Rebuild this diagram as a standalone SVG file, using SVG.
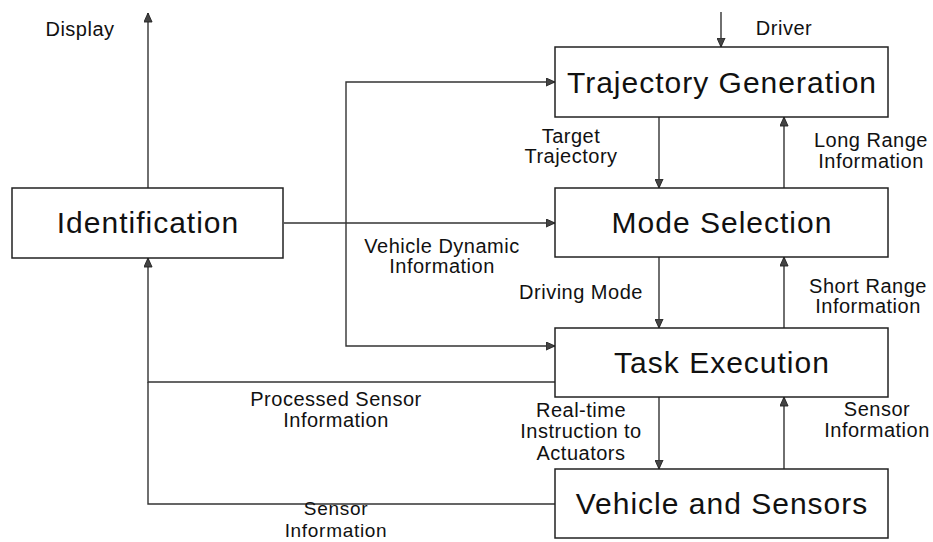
<svg xmlns="http://www.w3.org/2000/svg" width="933" height="542" viewBox="0 0 933 542">
<style>
.box{fill:#fff;stroke:#222;stroke-width:1.5}
.title{font-family:"Liberation Sans",Arial,sans-serif;font-size:30px;letter-spacing:1px;fill:#111;text-anchor:middle}
.lbl{font-family:"Liberation Sans",Arial,sans-serif;font-size:20px;letter-spacing:0.5px;fill:#111;text-anchor:middle}
.sm{font-size:19px;letter-spacing:0.7px}
.ln{fill:none;stroke:#333;stroke-width:1.4}
</style>
<defs>
<marker id="ah" viewBox="0 0 10 10" refX="10" refY="5" markerWidth="10" markerHeight="9" markerUnits="userSpaceOnUse" orient="auto">
<path d="M0,0.5 L10,5 L0,9.5 Z" fill="#444" stroke="#222" stroke-width="1"/>
</marker>
</defs>
<rect width="933" height="542" fill="#fff"/>
<g id="connectors">
<path class="ln" d="M148,188 V13" marker-end="url(#ah)"/>
<path class="ln" d="M721,12 V47" marker-end="url(#ah)"/>
<path class="ln" d="M284,223 H555" marker-end="url(#ah)"/>
<path class="ln" d="M346,223 V82 H555" marker-end="url(#ah)"/>
<path class="ln" d="M346,223 V346 H555" marker-end="url(#ah)"/>
<path class="ln" d="M659,117 V188" marker-end="url(#ah)"/>
<path class="ln" d="M784,188 V117" marker-end="url(#ah)"/>
<path class="ln" d="M659,257 V328" marker-end="url(#ah)"/>
<path class="ln" d="M784,328 V257" marker-end="url(#ah)"/>
<path class="ln" d="M659,397 V469" marker-end="url(#ah)"/>
<path class="ln" d="M784,469 V397" marker-end="url(#ah)"/>
<path class="ln" d="M555,382 H148 V258" marker-end="url(#ah)"/>
<path class="ln" d="M555,504 H148 V382"/>
</g>
<g id="labels">
<text class="lbl" x="80" y="36">Display</text>
<text class="lbl" x="784" y="35">Driver</text>
<text class="lbl" x="571" y="143">Target</text>
<text class="lbl" x="571" y="163">Trajectory</text>
<text class="lbl" x="871" y="147">Long Range</text>
<text class="lbl" x="871" y="168">Information</text>
<text class="lbl" x="442" y="253">Vehicle Dynamic</text>
<text class="lbl" x="442" y="273">Information</text>
<text class="lbl" x="581" y="299">Driving Mode</text>
<text class="lbl" x="868" y="293">Short Range</text>
<text class="lbl" x="868" y="313">Information</text>
<text class="lbl" x="336" y="406">Processed Sensor</text>
<text class="lbl" x="336" y="427">Information</text>
<text class="lbl" x="581" y="417">Real-time</text>
<text class="lbl" x="581" y="438">Instruction to</text>
<text class="lbl" x="581" y="460">Actuators</text>
<text class="lbl" x="877" y="416">Sensor</text>
<text class="lbl" x="877" y="437">Information</text>
<text class="lbl sm" x="336" y="515">Sensor</text>
<text class="lbl sm" x="336" y="537">Information</text>
</g>
<g id="identification">
<rect class="box" x="12" y="188" width="271" height="70"/>
<text class="title" x="148" y="233">Identification</text>
</g>
<g id="trajectory-generation">
<rect class="box" x="555" y="47" width="333" height="70"/>
<text class="title" x="722" y="93">Trajectory Generation</text>
</g>
<g id="mode-selection">
<rect class="box" x="555" y="188" width="333" height="69"/>
<text class="title" x="722" y="233">Mode Selection</text>
</g>
<g id="task-execution">
<rect class="box" x="555" y="328" width="333" height="69"/>
<text class="title" x="722" y="373">Task Execution</text>
</g>
<g id="vehicle-and-sensors">
<rect class="box" x="555" y="469" width="333" height="69"/>
<text class="title" x="722" y="514">Vehicle and Sensors</text>
</g>
</svg>
